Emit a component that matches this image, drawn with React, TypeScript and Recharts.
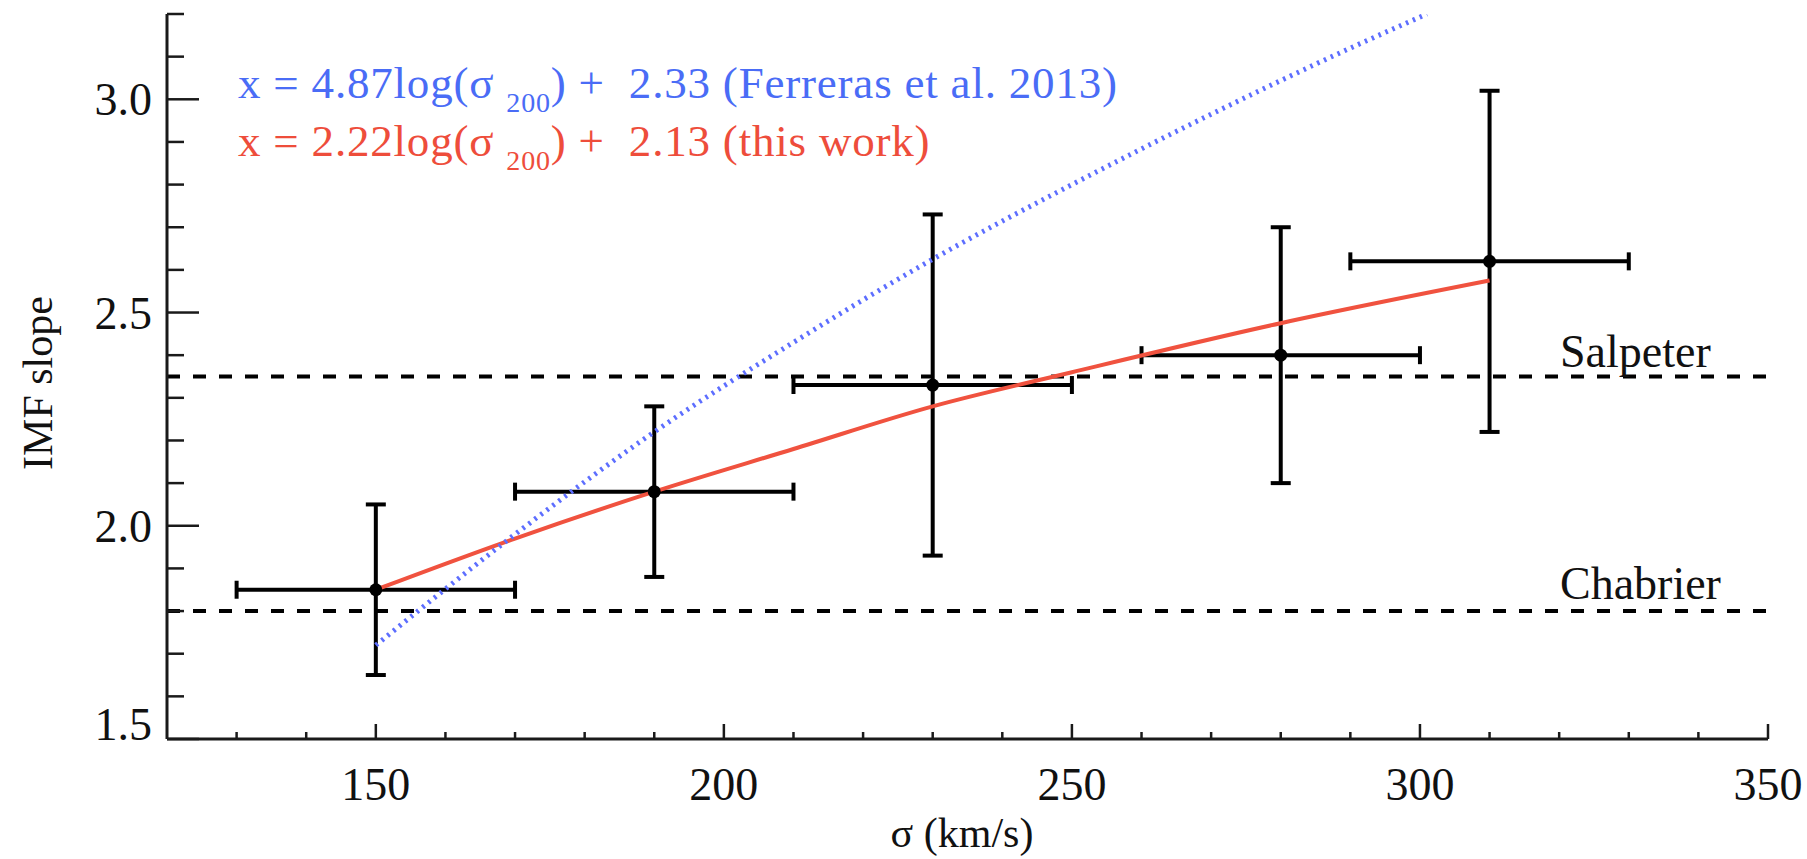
import React from 'react';
import {
  ComposedChart, XAxis, YAxis, Scatter, Line, ErrorBar, ReferenceLine,
} from 'recharts';

// ---- data ----
const sigma = [150, 190, 230, 280, 310];
const imfSlope = [1.85, 2.08, 2.33, 2.40, 2.62];
const sigmaErr = [20, 20, 20, 20, 20];
const imfErr = [0.20, 0.20, 0.40, 0.30, 0.40];

const fitSigma = [150, 170, 190, 210, 230, 250, 280, 310];
const fitThisWork = [1.85, 1.97, 2.08, 2.18, 2.28, 2.36, 2.475, 2.575];

const ferSigma = [150, 170, 190, 210, 230, 250, 270, 290, 301];
const ferFit = [1.72, 1.98, 2.22, 2.43, 2.625, 2.80, 2.965, 3.12, 3.2];

const salpeter = 2.35;
const chabrier = 1.80;

const xTicks = [130, 140, 150, 160, 170, 180, 190, 200, 210, 220, 230, 240, 250, 260, 270, 280, 290, 300, 310, 320, 330, 340, 350];
const yTicks = [1.5, 1.6, 1.7, 1.8, 1.9, 2.0, 2.1, 2.2, 2.3, 2.4, 2.5, 2.6, 2.7, 2.8, 2.9, 3.0, 3.1, 3.2];

const points = sigma.map((s, i) => ({ s, v: imfSlope[i], xe: sigmaErr[i], ye: imfErr[i] }));
const fitData = fitSigma.map((s, i) => ({ s, v: fitThisWork[i] }));
const ferData = ferSigma.map((s, i) => ({ s, v: ferFit[i] }));

// ---- layout ----
const W = 1807;
const H = 859;
const M_TOP = 14;
const M_RIGHT = 39;
const Y_AXIS_W = 167;
const X_AXIS_H = 120;
const PLOT_LEFT = Y_AXIS_W;
const PLOT_RIGHT = W - M_RIGHT;
const PLOT_TOP = M_TOP;
const PLOT_BOTTOM = H - X_AXIS_H;

const FONT = '"Liberation Serif", "Times New Roman", serif';
const AXIS = '#1a1a1a';
const BLUE_TXT = '#4a6cf6';
const RED_TXT = '#ee4d3b';
const NB = '\u00A0';

const isMajorX = (v: number) => v % 50 === 0;
const isMajorY = (v: number) => Math.abs(v * 2 - Math.round(v * 2)) < 1e-6;

const BottomTick = (p: any) => {
  const { x, payload } = p;
  const v = payload.value;
  const major = isMajorX(v);
  const y = PLOT_BOTTOM;
  return (
    <g>
      <line x1={x} x2={x} y1={y} y2={y - (major ? 15 : 7)} stroke={AXIS} strokeWidth={2.5} />
      {major && (
        <text x={x} y={y + 61} textAnchor="middle" fontFamily={FONT} fontSize={46} fill="#111">{v}</text>
      )}
    </g>
  );
};

const TopTick = (p: any) => {
  const { x, payload } = p;
  const major = isMajorX(payload.value);
  const y = PLOT_TOP;
  return <line x1={x} x2={x} y1={y} y2={y + (major ? 15 : 7)} stroke={AXIS} strokeWidth={2.5} />;
};

const LeftTick = (p: any) => {
  const { y, payload } = p;
  const v = payload.value;
  const major = isMajorY(v);
  const x = PLOT_LEFT;
  const base = Math.abs(v - 1.5) < 1e-6 ? y + 1 : y + 16;
  return (
    <g>
      <line x1={x} x2={x + (major ? 32 : 17)} y1={y} y2={y} stroke={AXIS} strokeWidth={2.5} />
      {major && (
        <text x={x - 15} y={base} textAnchor="end" fontFamily={FONT} fontSize={46} fill="#111">{v.toFixed(1)}</text>
      )}
    </g>
  );
};

const RightTick = (p: any) => {
  const { y, payload } = p;
  const major = isMajorY(payload.value);
  const x = PLOT_RIGHT;
  return <line x1={x} x2={x - (major ? 32 : 17)} y1={y} y2={y} stroke={AXIS} strokeWidth={2.5} />;
};

const Dot = (p: any) => <circle cx={p.cx} cy={p.cy} r={6.5} fill="#000" />;

const refLabel = (text: string, dy: number) => (p: any) => {
  const vb = p.viewBox || {};
  return (
    <text x={vb.x + vb.width - 208} y={vb.y - dy} fontFamily={FONT} fontSize={46} fill="#111">{text}</text>
  );
};

export default function App() {
  return (
    <div style={{ position: 'absolute', left: 0, top: 0, width: W, height: H, background: '#fff' }}>
      <ComposedChart width={W} height={H} margin={{ top: M_TOP, right: M_RIGHT, bottom: 0, left: 0 }}>
        <XAxis
          dataKey="s" type="number" domain={[120, 350]} allowDataOverflow ticks={xTicks} interval={0}
          height={X_AXIS_H} tickSize={0} tickMargin={0} tickLine={false} tick={BottomTick}
          axisLine={{ stroke: AXIS, strokeWidth: 3 }}
        />
        <XAxis
          xAxisId="top" orientation="top" dataKey="s" type="number" domain={[120, 350]} allowDataOverflow
          ticks={xTicks} interval={0} height={0} tickSize={0} tickMargin={0} tickLine={false} tick={TopTick}
          axisLine={{ stroke: AXIS, strokeWidth: 3 }}
        />
        <YAxis
          type="number" domain={[1.5, 3.2]} allowDataOverflow ticks={yTicks} interval={0}
          width={Y_AXIS_W} tickSize={0} tickMargin={0} tickLine={false} tick={LeftTick}
          axisLine={{ stroke: AXIS, strokeWidth: 3 }}
        />
        <YAxis
          yAxisId="right" orientation="right" type="number" domain={[1.5, 3.2]} allowDataOverflow ticks={yTicks}
          interval={0} width={0} tickSize={0} tickMargin={0} tickLine={false} tick={RightTick}
          axisLine={{ stroke: AXIS, strokeWidth: 3 }}
        />
        <ReferenceLine y={salpeter} stroke="#000" strokeWidth={4} strokeDasharray="13 13" label={refLabel('Salpeter', 10)} />
        <ReferenceLine y={chabrier} stroke="#000" strokeWidth={4} strokeDasharray="13 13" label={refLabel('Chabrier', 12)} />
        <Scatter data={points} dataKey="v" shape={Dot} isAnimationActive={false}>
          <ErrorBar dataKey="xe" direction="x" width={9} stroke="#000" strokeWidth={4} isAnimationActive={false} />
          <ErrorBar dataKey="ye" direction="y" width={10} stroke="#000" strokeWidth={4} isAnimationActive={false} />
        </Scatter>
        <Line data={fitData} dataKey="v" type="monotone" stroke="#f0523f" strokeWidth={4} dot={false} isAnimationActive={false} />
        <Line data={ferData} dataKey="v" type="monotone" stroke="#5d6eff" strokeWidth={5} strokeDasharray="2.5 5" dot={false} isAnimationActive={false} />
      </ComposedChart>
      <svg width={W} height={H} style={{ position: 'absolute', left: 0, top: 0, pointerEvents: 'none' }}>
        <text x={238} y={98} fontFamily={FONT} fontSize={45} letterSpacing={0.8} fill={BLUE_TXT}>
          {'x = 4.87log(σ '}<tspan fontSize={28} dy={14}>200</tspan><tspan dy={-14}>{`) +${NB}${NB}2.33 (Ferreras et al. 2013)`}</tspan>
        </text>
        <text x={238} y={156} fontFamily={FONT} fontSize={45} letterSpacing={0.8} fill={RED_TXT}>
          {'x = 2.22log(σ '}<tspan fontSize={28} dy={14}>200</tspan><tspan dy={-14}>{`) +${NB}${NB}2.13 (this work)`}</tspan>
        </text>
        <text x={962} y={847} textAnchor="middle" fontFamily={FONT} fontSize={42} fill="#111">σ (km/s)</text>
        <text transform="translate(52,383) rotate(-90)" textAnchor="middle" fontFamily={FONT} fontSize={42} fill="#111">IMF slope</text>
      </svg>
    </div>
  );
}
